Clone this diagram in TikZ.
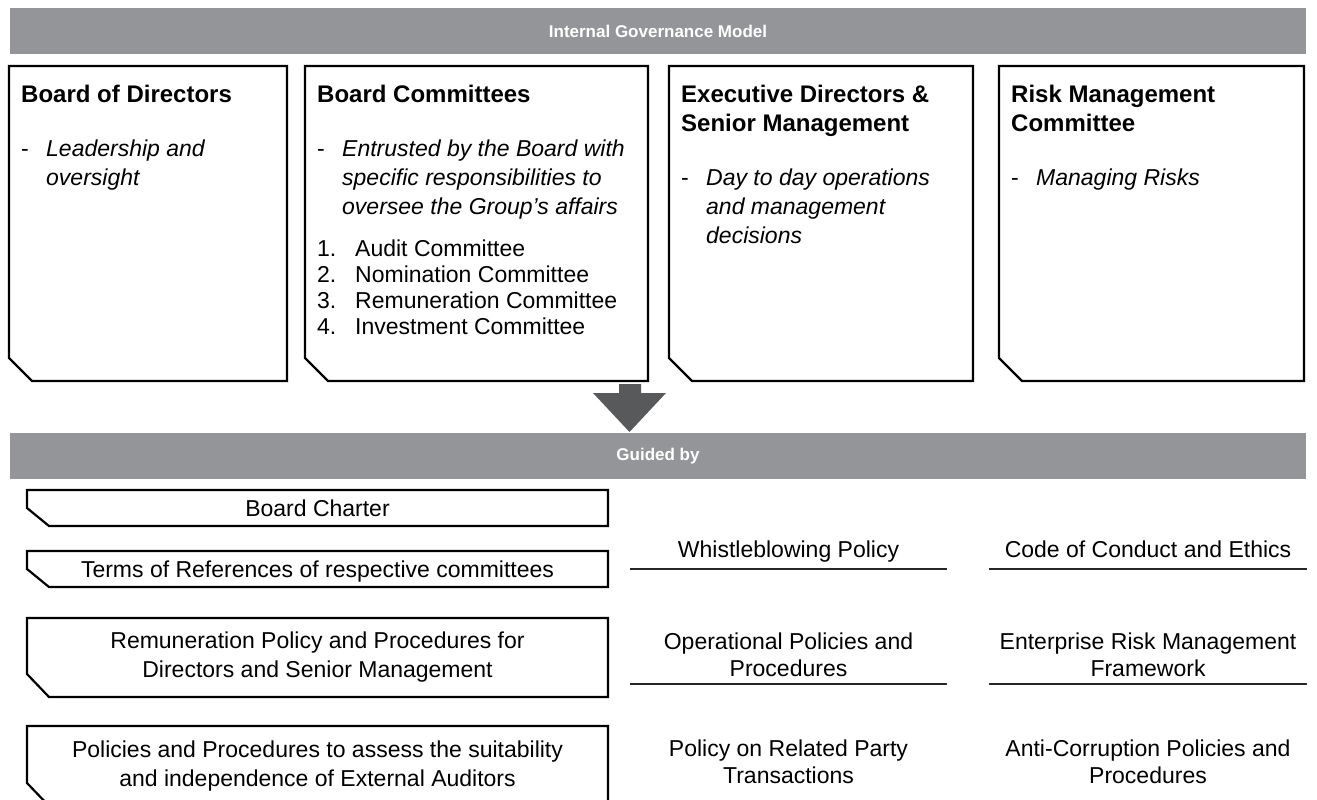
\documentclass[tikz,border=0pt]{standalone}
\usepackage{fontspec}
\setmainfont{Liberation Sans}
\usetikzlibrary{positioning}

\definecolor{bargray}{HTML}{939598}
\definecolor{arrowgray}{HTML}{58595B}

\newcommand{\govtext}{\fontsize{23}{29}\selectfont}
\newcommand{\govtitle}{\fontsize{24}{29}\selectfont\bfseries}
\newcommand{\dashline}[1]{\makebox[25pt][l]{-}\textit{#1}}
\newcommand{\dashcont}[1]{\hspace*{25pt}\textit{#1}}
\newcommand{\numline}[2]{\makebox[38pt][l]{#1}#2}
% outline of a node with its lower left corner cut off
\newcommand{\cutbox}[3]{\draw[boxline] (#1.north west) -- (#1.north east) -- (#1.south east) -- ([xshift=#2]#1.south west) -- ([yshift=#3]#1.south west) -- cycle;}

\tikzset{
  boxline/.style={line width=2.2pt, line join=miter},
  govbox/.style={rectangle, inner sep=0pt, outer sep=0pt, anchor=north west, align=center, font=\fontsize{23}{29}\selectfont},
  headbar/.style={fill=bargray, text=white, font=\fontsize{17}{20}\selectfont\bfseries, minimum width=1296pt, minimum height=46pt, inner sep=0pt},
  boxtext/.style={anchor=north west, inner sep=0pt, align=left, font=\govtext},
  listtext/.style={align=center, font=\fontsize{23}{27}\selectfont},
  oneline/.style={text height=16.5pt, text depth=0pt},
  rule/.style={line width=1.3pt, draw=black!85},
}

\begin{document}
\begin{tikzpicture}[x=1pt,y=-1pt]
\useasboundingbox (0,0) rectangle (1317,800);

% Governance model
\node[headbar] (igm) at (658,31.5) {Internal Governance Model};

\node[govbox, minimum width=278pt, minimum height=315pt] (bod) at (9,66) {};
\node[govbox, minimum width=343pt, minimum height=315pt] (bcom) at (305,66) {};
\node[govbox, minimum width=304pt, minimum height=315pt] (exec) at (669,66) {};
\node[govbox, minimum width=305pt, minimum height=315pt] (rmc) at (999,66) {};
\cutbox{bod}{23pt}{23pt}
\cutbox{bcom}{23pt}{23pt}
\cutbox{exec}{23pt}{23pt}
\cutbox{rmc}{23pt}{23pt}

\node[boxtext, below right=19pt and 12pt of bod.north west] (bodtext) {%
  {\govtitle Board of Directors}\\[25pt]
  \dashline{Leadership and}\\
  \dashcont{oversight}};
\node[boxtext, below right=19pt and 12pt of bcom.north west] (bcomtext) {%
  {\govtitle Board Committees}\\[25pt]
  \dashline{Entrusted by the Board with}\\
  \dashcont{specific responsibilities to}\\
  \dashcont{oversee the Group's affairs}\\[13pt]
  \numline{1.}{Audit Committee}\\[-3pt]
  \numline{2.}{Nomination Committee}\\[-3pt]
  \numline{3.}{Remuneration Committee}\\[-3pt]
  \numline{4.}{Investment Committee}};
\node[boxtext, below right=19pt and 12pt of exec.north west] (exectext) {%
  {\govtitle Executive Directors \&}\\
  {\govtitle Senior Management}\\[25pt]
  \dashline{Day to day operations}\\
  \dashcont{and management}\\
  \dashcont{decisions}};
\node[boxtext, below right=19pt and 12pt of rmc.north west] (rmctext) {%
  {\govtitle Risk Management}\\
  {\govtitle Committee}\\[25pt]
  \dashline{Managing Risks}};

% block arrow down
\fill[arrowgray] (619,384) -- (641,384) -- (641,393) -- (666,393) -- (629.5,432) -- (593,393) -- (619,393) -- cycle;

% Guided by
\node[headbar] (guided) at (658,456) {Guided by};

\node[govbox, oneline, minimum width=581pt, minimum height=36pt] (charter) at (27,490) {Board Charter};
\node[govbox, oneline, minimum width=581pt, minimum height=36pt] (terms) at (27,551) {Terms of References of respective committees};
\node[govbox, minimum width=581pt, minimum height=79pt] (remun) at (27,618) {Remuneration Policy and Procedures for\\Directors and Senior Management};
\node[govbox, minimum width=581pt, minimum height=80pt] (auditors) at (27,726) {Policies and Procedures to assess the suitability\\and independence of External Auditors};
\cutbox{charter}{22pt}{18pt}
\cutbox{terms}{22pt}{18pt}
\cutbox{remun}{22pt}{23pt}
\cutbox{auditors}{22pt}{23pt}

\node[listtext, oneline] (whistle) at (788.5,549) {Whistleblowing Policy};
\node[listtext, oneline] (conduct) at (1148,549) {Code of Conduct and Ethics};
\node[listtext] (operational) at (788.5,654.5) {Operational Policies and\\Procedures};
\node[listtext] (erm) at (1148,654.5) {Enterprise Risk Management\\Framework};
\node[listtext] (rpt) at (788.5,761.5) {Policy on Related Party\\Transactions};
\node[listtext] (anticorr) at (1148,761.5) {Anti-Corruption Policies and\\Procedures};
\foreach \y in {569,684} {
  \draw[rule] (630,\y) -- (947,\y);
  \draw[rule] (989,\y) -- (1307,\y);
}
\end{tikzpicture}
\end{document}
